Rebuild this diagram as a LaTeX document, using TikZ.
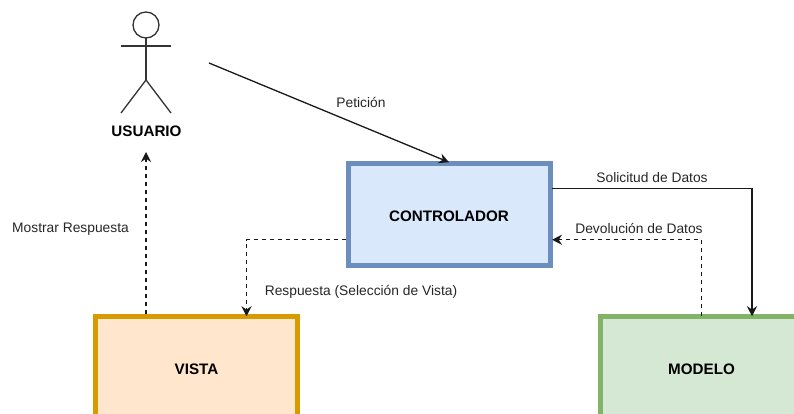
\documentclass[tikz,border=0pt]{standalone}
\usepackage{fontspec}
\setmainfont{Liberation Sans}
\usetikzlibrary{arrows.meta,calc}
\definecolor{ctrlfill}{HTML}{DAE8FC}
\definecolor{ctrlline}{HTML}{6C8EBF}
\definecolor{vistafill}{HTML}{FFE6CC}
\definecolor{vistaline}{HTML}{D79B00}
\definecolor{modelfill}{HTML}{D5E8D4}
\definecolor{modelline}{HTML}{82B366}
\tikzset{
  x=1pt,y=-1pt,
  boxnode/.style={draw,line width=5pt,minimum width=202pt,minimum height=102.5pt,outer sep=0pt,inner sep=0pt,text height=14pt,text depth=0pt,font=\fontsize{15.2}{17}\selectfont\bfseries},
  link/.style={line width=1.3pt,black!90,-{Stealth[length=10pt,width=10pt]}},
  dashlink/.style={link,dash pattern=on 4pt off 4pt},
  lbl/.style={font=\fontsize{13.8}{16}\selectfont,text=black!85,inner sep=0pt},
  actor/.style={line width=1.3pt,black!80}
}
\begin{document}
\begin{tikzpicture}
\useasboundingbox (0,0) rectangle (794,414);
\clip (0,0) rectangle (794,414);
\node[boxnode,fill=ctrlfill,draw=ctrlline] (ctrl) at (449,214.5) {CONTROLADOR};
\node[boxnode,fill=vistafill,draw=vistaline] (vista) at (196.5,367.5) {VISTA};
\node[boxnode,fill=modelfill,draw=modelline] (model) at (701.5,367.5) {MODELO};
% actor
\node[draw=black!80,line width=1.3pt,circle,minimum size=26pt,inner sep=0pt,outer sep=0pt] (head) at (146,25) {};
\coordinate (hip) at (146,80);
\coordinate (armL) at (121,46);
\coordinate (armR) at (171,46);
\coordinate (footL) at (121,113);
\coordinate (footR) at (171,113);
\draw[actor] (head.south) -- (hip);
\draw[actor] (armL) -- (armR);
\draw[actor] (footL) -- (hip) -- (footR);
\node[font=\fontsize{15.2}{17}\selectfont\bfseries,inner sep=0pt] (usuario) at (146.5,131.5) {USUARIO};
\coordinate (petStart) at (209,63);
\coordinate (mostrarEnd) at (146,152);
% connectors
\draw[link] (petStart) -- ($(ctrl.north)+(0,-1)$);
\draw[link] ($(ctrl.east)+(2,-25.75)$) -| ($(model.north)+(50.5,0)$);
\draw[dashlink] (model.north) |- ($(ctrl.east)+(2,25.25)$);
\draw[dashlink] ($(ctrl.west)+(-2,25.25)$) -| ($(vista.north)+(50,0)$);
\draw[dashlink] ($(vista.north)+(-50.5,-2)$) -- (mostrarEnd);
% labels
\node[lbl] (l1) at (361,102.8) {Petición};
\node[lbl] (l2) at (652,177.8) {Solicitud de Datos};
\node[lbl] (l3) at (639,228.8) {Devolución de Datos};
\node[lbl] (l4) at (361,291.8) {Respuesta (Selección de Vista)};
\node[lbl] (l5) at (70.5,228.8) {Mostrar Respuesta};
\end{tikzpicture}
\end{document}
